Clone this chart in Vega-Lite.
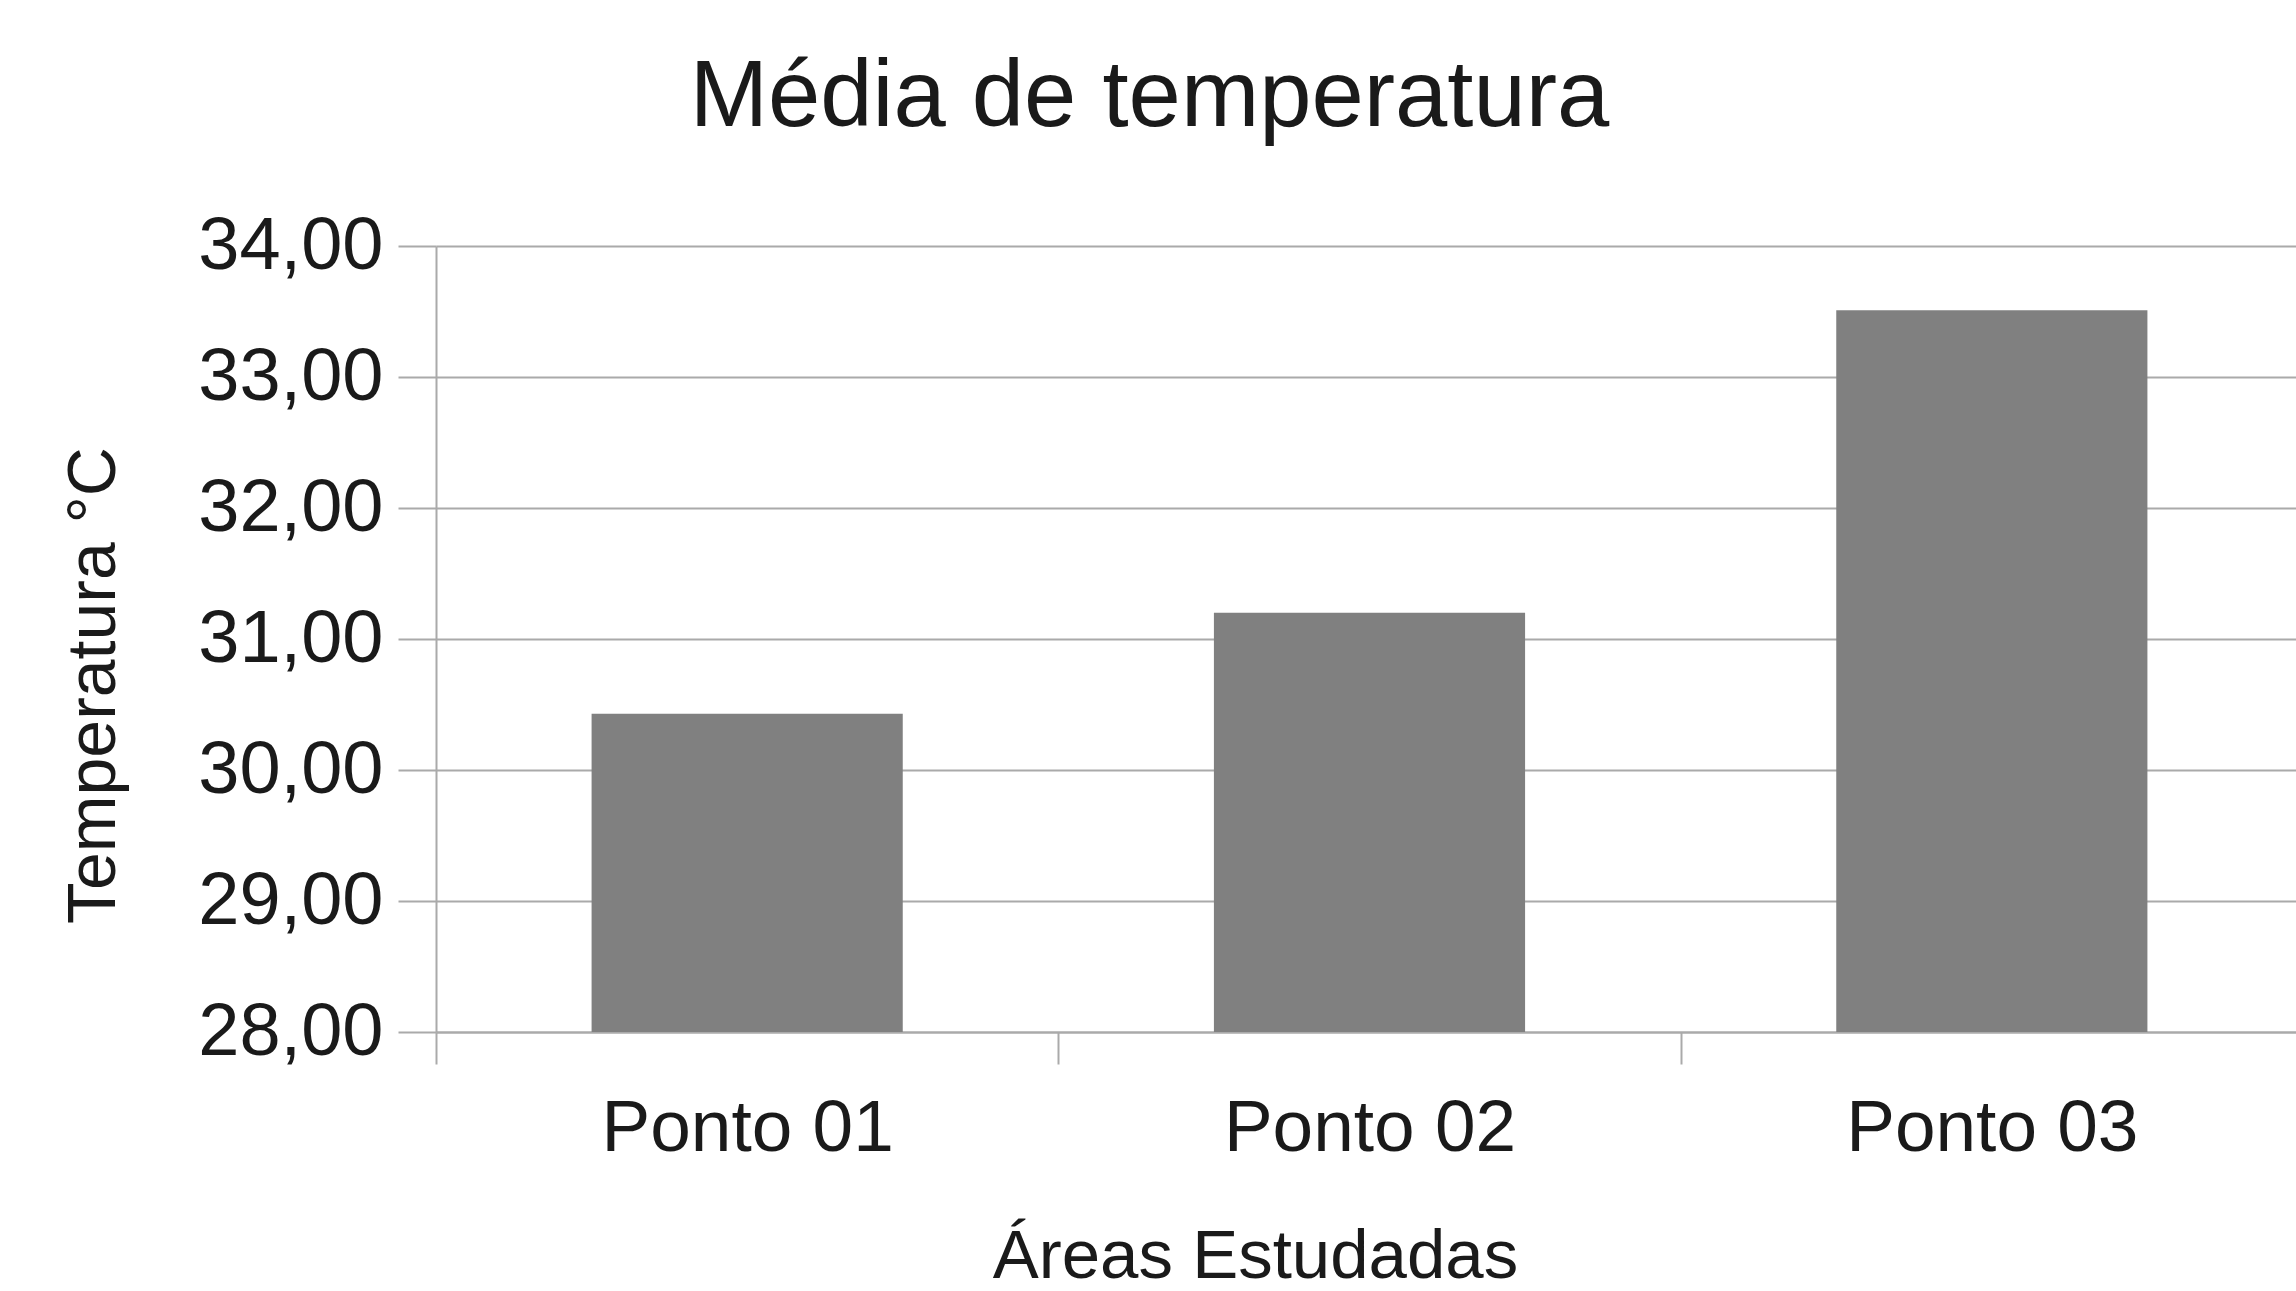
{
  "$schema": "https://vega.github.io/schema/vega-lite/v6.json",
  "width": 1867,
  "height": 786,
  "autosize": {"type": "none"},
  "padding": {"left": 436, "top": 246, "right": -7, "bottom": 259},
  "background": "white",
  "title": {
    "text": "Média de temperatura",
    "frame": "group",
    "anchor": "middle",
    "baseline": "alphabetic",
    "offset": -11,
    "dx": -220,
    "fontSize": 94,
    "font": "Liberation Sans",
    "fontWeight": "normal",
    "color": "#1a1a1a"
  },
  "data": {
    "values": [
      {"area": "Ponto 01", "temperatura": 30.43},
      {"area": "Ponto 02", "temperatura": 31.2},
      {"area": "Ponto 03", "temperatura": 33.51}
    ]
  },
  "mark": {"type": "bar", "color": "#808080", "width": {"band": 0.5}},
  "encoding": {
    "x": {
      "field": "area",
      "type": "nominal",
      "sort": null,
      "scale": {"paddingInner": 0, "paddingOuter": 0},
      "axis": {
        "title": "Áreas Estudadas",
        "labelAngle": 0,
        "labelLimit": 0,
        "tickBand": "extent",
        "tickSize": 32,
        "tickColor": "#aaaaaa",
        "tickWidth": 2,
        "domainColor": "#aaaaaa",
        "domainWidth": 2,
        "grid": false,
        "labelFont": "Liberation Sans",
        "labelFontSize": 73,
        "labelColor": "#1a1a1a",
        "labelBaseline": "alphabetic",
        "labelPadding": 86,
        "titleFont": "Liberation Sans",
        "titleFontSize": 69,
        "titleFontWeight": "normal",
        "titleColor": "#1a1a1a",
        "titleX": 819,
        "titleY": 245,
        "titleBaseline": "alphabetic",
        "titleAlign": "center"
      }
    },
    "y": {
      "field": "temperatura",
      "type": "quantitative",
      "scale": {"domain": [28, 34], "zero": false, "nice": false},
      "axis": {
        "values": [28, 29, 30, 31, 32, 33, 34],
        "labelExpr": "replace(format(datum.value, '.2f'), '.', ',')",
        "labelLimit": 0,
        "tickSize": 38,
        "tickColor": "#aaaaaa",
        "tickWidth": 2,
        "domainColor": "#aaaaaa",
        "domainWidth": 2,
        "gridColor": "#aaaaaa",
        "gridWidth": 2,
        "labelFont": "Liberation Sans",
        "labelFontSize": 74,
        "labelPadding": 15,
        "labelColor": "#1a1a1a",
        "labelFlush": false,
        "labelOverlap": false,
        "title": "Temperatura °C",
        "titleFont": "Liberation Sans",
        "titleFontSize": 68,
        "titleFontWeight": "normal",
        "titleColor": "#1a1a1a",
        "titleAngle": 270,
        "titleX": -322,
        "titleY": 439,
        "titleBaseline": "alphabetic",
        "titleAlign": "center"
      }
    },
    "y2": {"datum": 28}
  },
  "config": {"view": {"stroke": null}, "font": "Liberation Sans"}
}
